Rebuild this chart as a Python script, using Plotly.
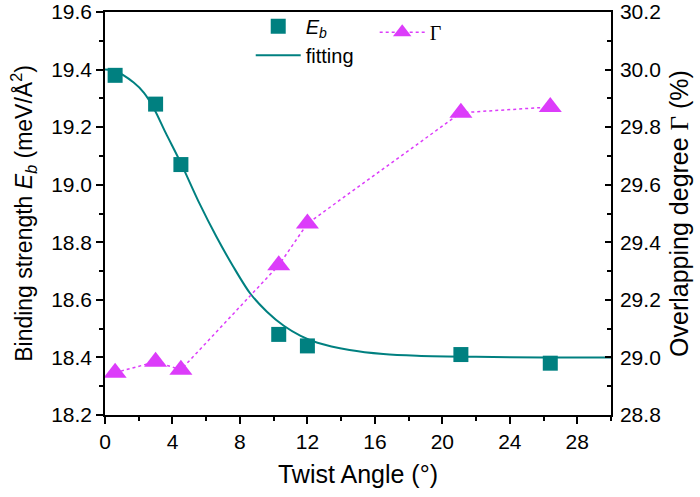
import plotly.graph_objects as go

# Data
twist_angle = [0.6, 3.0, 4.5, 10.3, 12.0, 21.1, 26.4]
binding_eb = [19.38, 19.28, 19.07, 18.48, 18.44, 18.41, 18.38]
overlap_gamma = [28.947, 28.985, 28.957, 29.32, 29.465, 29.85, 29.87]

fit_x = [0, 0.6, 1.7, 2.3, 2.9, 3.6, 4.5, 5.6, 6.6, 7.6, 8.6, 9.6, 10.6,
         11.6, 12.6, 14.5, 16.5, 18.5, 22, 26, 30]
fit_y = [19.40, 19.395, 19.355, 19.32, 19.265, 19.18, 19.075, 18.935, 18.82,
         18.716, 18.623, 18.559, 18.51, 18.475, 18.451, 18.426, 18.412,
         18.406, 18.402, 18.40, 18.40]

x_ticks = [0, 4, 8, 12, 16, 20, 24, 28]

TEAL = "#008080"
MAG = "#DC3CFA"

fig = go.Figure()

fig.add_trace(go.Scatter(
    x=twist_angle, y=binding_eb, mode="markers",
    marker=dict(symbol="square", size=15, color=TEAL),
    name="<i>E</i><sub><i>b</i></sub>", legend="legend",
))
fig.add_trace(go.Scatter(
    x=fit_x, y=fit_y, mode="lines",
    line=dict(color=TEAL, width=2, shape="spline", smoothing=0.8),
    name="fitting", legend="legend",
))
fig.add_trace(go.Scatter(
    x=twist_angle, y=overlap_gamma, mode="lines+markers", yaxis="y2",
    line=dict(color=MAG, width=1.5, dash="dot"),
    marker=dict(symbol="triangle-up", size=20, color=MAG),
    name="<span style=\"font-family:'Liberation Serif'\">Γ</span>",
    legend="legend2",
))

axis_common = dict(
    showline=True, linecolor="black", linewidth=1.5,
    showgrid=False, zeroline=False,
    tickcolor="black", tickwidth=1.5,
)

fig.update_layout(
    width=700, height=497,
    margin=dict(l=105, r=89, t=12, b=82, autoexpand=False),
    plot_bgcolor="white", paper_bgcolor="white",
    font=dict(family="Liberation Sans, Arial, sans-serif", size=21, color="black"),
    xaxis=dict(
        range=[0, 30], tickvals=x_ticks, ticks="outside", ticklen=7,
        minor=dict(dtick=2, tick0=0, ticks="outside", ticklen=4, tickcolor="black", tickwidth=1.5),
        mirror=True,
        title=dict(text="Twist Angle (°)", font=dict(size=25), standoff=14),
        **axis_common,
    ),
    yaxis=dict(
        range=[18.2, 19.6], dtick=0.2, tick0=18.2, tickformat=".1f",
        ticks="outside", ticklen=7,
        minor=dict(dtick=0.1, ticks="outside", ticklen=4, tickcolor="black", tickwidth=1.5),
        title=dict(text="Binding strength <i>E</i><sub><i>b</i></sub> (meV/Å<sup>2</sup>)",
                   font=dict(size=23), standoff=12),
        **axis_common,
    ),
    yaxis2=dict(
        overlaying="y", side="right",
        range=[28.8, 30.2], dtick=0.2, tick0=28.8, tickformat=".1f",
        ticks="inside", ticklen=6, ticklabelstandoff=3,
        minor=dict(dtick=0.1, ticks="inside", ticklen=4, tickcolor="black", tickwidth=1.5),
        title=dict(text="Overlapping degree <span style=\"font-family:'Liberation Serif'\">Γ</span> (%)",
                   font=dict(size=25), standoff=10),
        **axis_common,
    ),
    legend=dict(
        x=0.288, y=1.013, xanchor="left", yanchor="top",
        bgcolor="rgba(0,0,0,0)", font=dict(size=20),
        itemwidth=45, tracegroupgap=0,
    ),
    legend2=dict(
        x=0.533, y=0.998, xanchor="left", yanchor="top",
        bgcolor="rgba(0,0,0,0)", font=dict(size=20),
        itemwidth=45,
    ),
)

fig.write_html("out.html")
